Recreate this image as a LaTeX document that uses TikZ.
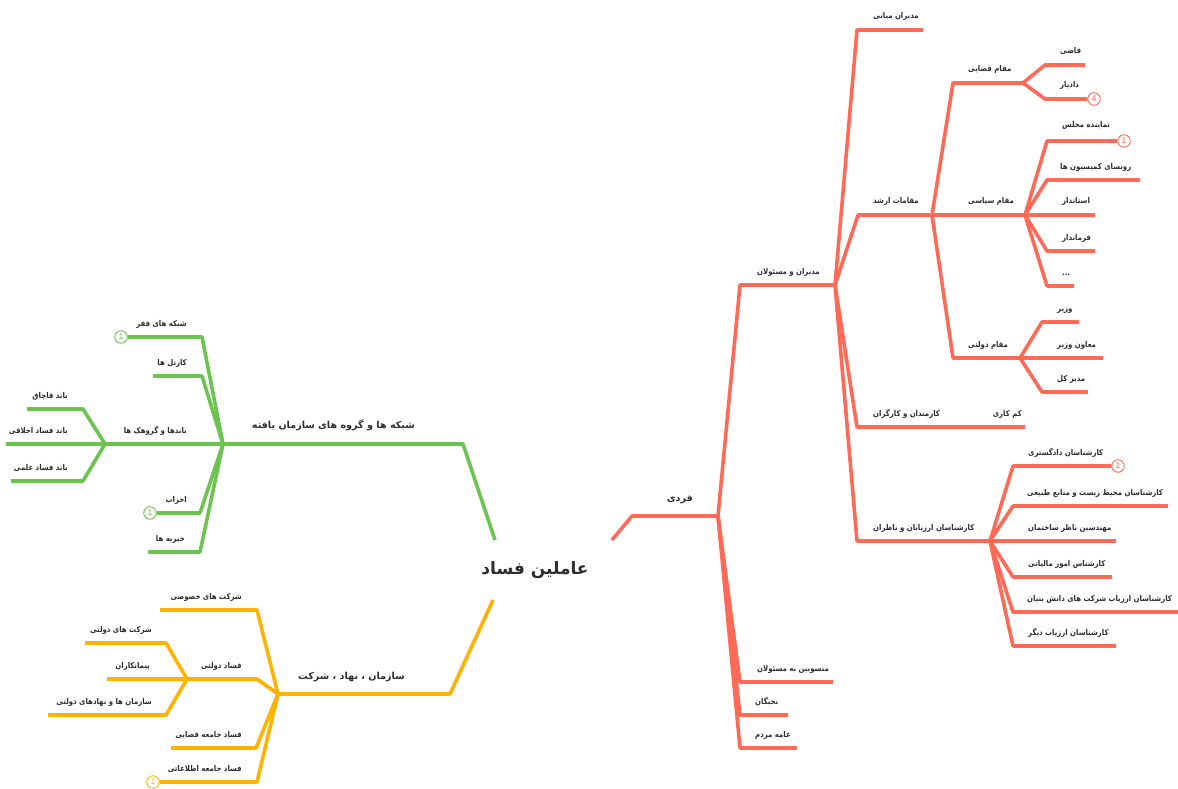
\documentclass[tikz,border=0pt]{standalone}
\usepackage{fontspec}
\newfontfamily\arabicfont[Script=Arabic]{DejaVu Sans}
\newfontfamily\arabicnarrow[Script=Arabic,FakeStretch=0.87]{DejaVu Sans}
\newfontfamily\badgefont{Liberation Sans}
\TeXXeTstate=1
\definecolor{cR}{RGB}{255,106,86}
\definecolor{cG}{RGB}{108,196,80}
\definecolor{cY}{RGB}{255,179,0}
\definecolor{txt}{RGB}{45,45,45}
\newcommand\myrtl[1]{\beginR #1\endR}
\tikzset{
  br/.style={line width=3.6pt, line join=round},
  rl/.style={br, draw=cR},
  gl/.style={br, draw=cG},
  yl/.style={br, draw=cY},
  lbl/.style={inner sep=0pt, text=txt, font=\arabicnarrow\bfseries\fontsize{8}{9}\selectfont},
  mlbl/.style={inner sep=0pt, text=txt, font=\arabicfont\bfseries\fontsize{9.6}{11}\selectfont},
  badge/.style={circle, draw=#1, text=#1, fill=white, line width=0.9pt, minimum size=12.5pt, inner sep=0pt, font=\badgefont\fontsize{8.5}{8.5}\selectfont},
}
\begin{document}
\begin{tikzpicture}[x=1pt,y=-1pt]
\useasboundingbox (0,0) rectangle (1178,789);
% ---------- centre
\node[inner sep=0pt, text=txt, font=\arabicfont\bfseries\fontsize{17}{20}\selectfont] (center) at (535,570) {\myrtl{عاملین فساد}};

% ================= RED (right)
\coordinate (rS) at (612,540);
\coordinate (rC) at (632,516);
\coordinate (rJ) at (718,516);
\draw[rl] (rS) -- (rC) -- (rJ);
\node[mlbl, anchor=base east] (tFardi) at (693,501) {\myrtl{فردی}};

% modiran va masoulan
\coordinate (mC) at (740,285); \coordinate (mJ) at (835,285);
\draw[rl] (rJ) -- (mC) -- (mJ);
\node[lbl, anchor=base west] (tMM) at (757,274) {\myrtl{مدیران و مسئولان}};

\coordinate (mmC) at (857,30); \coordinate (mmE) at (923,30);
\draw[rl] (mJ) -- (mmC) -- (mmE);
\node[lbl, anchor=base west] (tMiani) at (873,19) {\myrtl{مدیران میانی}};

\coordinate (maC) at (858,215); \coordinate (maJ) at (932,215);
\draw[rl] (mJ) -- (maC) -- (maJ);
\node[lbl, anchor=base west] (tArshad) at (873,204) {\myrtl{مقامات ارشد}};

\coordinate (kkC) at (857,427); \coordinate (kkE) at (1025,427);
\draw[rl] (mJ) -- (kkC) -- (kkE);
\node[lbl, anchor=base west] (tKarmand) at (873,416) {\myrtl{کارمندان و کارگران}};
\node[lbl, anchor=base east] (tKamkari) at (1022,416) {\myrtl{کم کاری}};

\coordinate (kaC) at (857,541); \coordinate (kaJ) at (990,541);
\draw[rl] (mJ) -- (kaC) -- (kaJ);
\node[lbl, anchor=base west] (tKarshArz) at (873,530) {\myrtl{کارشناسان ارزیابان و ناظران}};

% maghamat arshad children
\coordinate (qC) at (953,83); \coordinate (qJ) at (1023,83);
\draw[rl] (maJ) -- (qC) -- (qJ);
\node[lbl, anchor=base west] (tQazaei) at (968,72) {\myrtl{مقام قضایی}};

\coordinate (qaC) at (1045,65); \coordinate (qaE) at (1085,65);
\draw[rl] (qJ) -- (qaC) -- (qaE);
\node[lbl, anchor=base west] (tQazi) at (1060,54) {\myrtl{قاضی}};

\node[badge=cR] (b4) at (1094,99) {4};
\coordinate (daC) at (1045,99);
\draw[rl] (qJ) -- (daC) -- (b4.west);
\node[lbl, anchor=base west] (tDadyar) at (1060,88) {\myrtl{دادیار}};

\coordinate (sJ) at (1025,215);
\draw[rl] (maJ) -- (sJ);
\node[lbl, anchor=base west] (tSiasi) at (968,204) {\myrtl{مقام سیاسی}};

\node[badge=cR] (b1a) at (1124,141) {1};
\coordinate (nmC) at (1047,141);
\draw[rl] (sJ) -- (nmC) -- (b1a.west);
\node[lbl, anchor=base west] (tNamayande) at (1062,128) {\myrtl{نماینده مجلس}};

\coordinate (rkC) at (1047,180); \coordinate (rkE) at (1140,180);
\draw[rl] (sJ) -- (rkC) -- (rkE);
\node[lbl, anchor=base west] (tRoasa) at (1060,169) {\myrtl{رونسای کمیسیون ها}};

\coordinate (osE) at (1095,215);
\draw[rl] (sJ) -- (osE);
\node[lbl, anchor=base west] (tOstandar) at (1062,204) {\myrtl{استاندار}};

\coordinate (fmC) at (1047,251); \coordinate (fmE) at (1095,251);
\draw[rl] (sJ) -- (fmC) -- (fmE);
\node[lbl, anchor=base west] (tFarmandar) at (1062,240) {\myrtl{فرماندار}};

\coordinate (dtC) at (1047,286); \coordinate (dtE) at (1074,286);
\draw[rl] (sJ) -- (dtC) -- (dtE);
\node[lbl, anchor=base west] (tDots) at (1062,275) {...};

\coordinate (dvC) at (953,358); \coordinate (dvJ) at (1020,358);
\draw[rl] (maJ) -- (dvC) -- (dvJ);
\node[lbl, anchor=base west] (tDolati) at (968,347) {\myrtl{مقام دولتی}};

\coordinate (vzC) at (1042,322); \coordinate (vzE) at (1079,322);
\draw[rl] (dvJ) -- (vzC) -- (vzE);
\node[lbl, anchor=base west] (tVazir) at (1057,311) {\myrtl{وزیر}};

\coordinate (mvE) at (1103,358);
\draw[rl] (dvJ) -- (mvE);
\node[lbl, anchor=base west] (tMoaven) at (1057,347) {\myrtl{معاون وزیر}};

\coordinate (mkC) at (1042,392); \coordinate (mkE) at (1088,392);
\draw[rl] (dvJ) -- (mkC) -- (mkE);
\node[lbl, anchor=base west] (tModirkol) at (1057,381) {\myrtl{مدیر کل}};

% karshenasan children
\node[badge=cR] (b1b) at (1118,466) {1};
\coordinate (k1C) at (1013,466);
\draw[rl] (kaJ) -- (k1C) -- (b1b.west);
\node[lbl, anchor=base west] (tK1) at (1028,455) {\myrtl{کارشناسان دادگستری}};

\coordinate (k2C) at (1013,506); \coordinate (k2E) at (1168,506);
\draw[rl] (kaJ) -- (k2C) -- (k2E);
\node[lbl, anchor=base west] (tK2) at (1027,495) {\myrtl{کارشناسان محیط زیست و منابع طبیعی}};

\coordinate (k3E) at (1116,541);
\draw[rl] (kaJ) -- (k3E);
\node[lbl, anchor=base west] (tK3) at (1028,530) {\myrtl{مهندسین ناظر ساختمان}};

\coordinate (k4C) at (1013,577); \coordinate (k4E) at (1112,577);
\draw[rl] (kaJ) -- (k4C) -- (k4E);
\node[lbl, anchor=base west] (tK4) at (1028,566) {\myrtl{کارشناس امور مالیاتی}};

\coordinate (k5C) at (1013,612); \coordinate (k5E) at (1178,612);
\draw[rl] (kaJ) -- (k5C) -- (k5E);
\node[lbl, anchor=base west] (tK5) at (1027,601) {\myrtl{کارشناسان ارزیاب شرکت های دانش بنیان}};

\coordinate (k6C) at (1013,646); \coordinate (k6E) at (1116,646);
\draw[rl] (kaJ) -- (k6C) -- (k6E);
\node[lbl, anchor=base west] (tK6) at (1028,635) {\myrtl{کارشناسان ارزیاب دیگر}};

% fardi lower children
\coordinate (f1C) at (740,682); \coordinate (f1E) at (833,682);
\draw[rl] (rJ) -- (f1C) -- (f1E);
\node[lbl, anchor=base west] (tMansub) at (757,671) {\myrtl{منسوبین به مسئولان}};

\coordinate (f2C) at (740,715); \coordinate (f2E) at (788,715);
\draw[rl] (rJ) -- (f2C) -- (f2E);
\node[lbl, anchor=base west] (tNokhbe) at (755,704) {\myrtl{نخبگان}};

\coordinate (f3C) at (740,748); \coordinate (f3E) at (797,748);
\draw[rl] (rJ) -- (f3C) -- (f3E);
\node[lbl, anchor=base west] (tAmme) at (755,737) {\myrtl{عامه مردم}};

% ================= GREEN (upper left)
\coordinate (gS) at (495,540);
\coordinate (gC) at (463,444);
\coordinate (gJ) at (223,444);
\draw[gl] (gS) -- (gC) -- (gJ);
\node[mlbl, anchor=base east] (tShabake) at (415,428) {\myrtl{شبکه ها و گروه های سازمان یافته}};

\node[badge=cG] (g1) at (121,337) {1};
\coordinate (g1C) at (202,337);
\draw[gl] (gJ) -- (g1C) -- (g1.east);
\node[lbl, anchor=base east] (tFaghr) at (187,326) {\myrtl{شبکه های فقر}};

\coordinate (g2C) at (202,376); \coordinate (g2E) at (153,376);
\draw[gl] (gJ) -- (g2C) -- (g2E);
\node[lbl, anchor=base east] (tCartel) at (187,365) {\myrtl{کارتل ها}};

\coordinate (bJ) at (105,444);
\draw[gl] (gJ) -- (bJ);
\node[lbl, anchor=base east] (tBand) at (187,433) {\myrtl{باندها و گروهک ها}};

\coordinate (b1C) at (83,409); \coordinate (b1E) at (27,409);
\draw[gl] (bJ) -- (b1C) -- (b1E);
\node[lbl, anchor=base east] (tQachaq) at (68,398) {\myrtl{باند قاچاق}};

\coordinate (b2E) at (6,444);
\draw[gl] (bJ) -- (b2E);
\node[lbl, anchor=base east] (tAkhlaq) at (68,433) {\myrtl{باند فساد اخلاقی}};

\coordinate (b3C) at (83,481); \coordinate (b3E) at (11,481);
\draw[gl] (bJ) -- (b3C) -- (b3E);
\node[lbl, anchor=base east] (tElmi) at (68,470) {\myrtl{باند فساد علمی}};

\node[badge=cG] (g2) at (150,513) {1};
\coordinate (g4C) at (200,513);
\draw[gl] (gJ) -- (g4C) -- (g2.east);
\node[lbl, anchor=base east] (tAhzab) at (187,502) {\myrtl{احزاب}};

\coordinate (g5C) at (200,552); \coordinate (g5E) at (148,552);
\draw[gl] (gJ) -- (g5C) -- (g5E);
\node[lbl, anchor=base east] (tKheirie) at (185,541) {\myrtl{خیریه ها}};

% ================= YELLOW (lower left)
\coordinate (yS) at (493,600);
\coordinate (yC) at (450,694);
\coordinate (yJ) at (278,694);
\draw[yl] (yS) -- (yC) -- (yJ);
\node[mlbl, anchor=base east] (tSazman) at (405,679) {\myrtl{سازمان ، نهاد ، شرکت}};

\coordinate (y1C) at (257,610); \coordinate (y1E) at (160,610);
\draw[yl] (yJ) -- (y1C) -- (y1E);
\node[lbl, anchor=base east] (tKhosusi) at (242,599) {\myrtl{شرکت های خصوصی}};

\coordinate (y2C) at (257,679); \coordinate (fdJ) at (187,679);
\draw[yl] (yJ) -- (y2C) -- (fdJ);
\node[lbl, anchor=base east] (tFDolati) at (242,668) {\myrtl{فساد دولتی}};

\coordinate (d1C) at (166,643); \coordinate (d1E) at (85,643);
\draw[yl] (fdJ) -- (d1C) -- (d1E);
\node[lbl, anchor=base east] (tShDolati) at (152,632) {\myrtl{شرکت های دولتی}};

\coordinate (d2E) at (107,679);
\draw[yl] (fdJ) -- (d2E);
\node[lbl, anchor=base east] (tPeyman) at (150,668) {\myrtl{پیمانکاران}};

\coordinate (d3C) at (166,715); \coordinate (d3E) at (48,715);
\draw[yl] (fdJ) -- (d3C) -- (d3E);
\node[lbl, anchor=base east] (tNahad) at (152,704) {\myrtl{سازمان ها و نهادهای دولتی}};

\coordinate (y3C) at (256,748); \coordinate (y3E) at (171,748);
\draw[yl] (yJ) -- (y3C) -- (y3E);
\node[lbl, anchor=base east] (tQazaeiF) at (242,737) {\myrtl{فساد جامعه قضایی}};

\node[badge=cY] (y1b) at (153,782) {1};
\coordinate (y4C) at (257,782);
\draw[yl] (yJ) -- (y4C) -- (y1b.east);
\node[lbl, anchor=base east] (tEttelaat) at (242,771) {\myrtl{فساد جامعه اطلاعاتی}};
\end{tikzpicture}
\end{document}
